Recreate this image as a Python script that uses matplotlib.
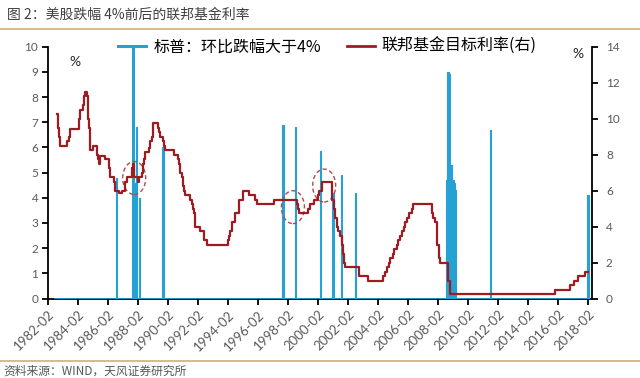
import numpy as np
import pandas as pd
import matplotlib
matplotlib.use('Agg')
import matplotlib.pyplot as plt
import matplotlib.dates as mdates
from matplotlib.patches import Ellipse
from matplotlib.lines import Line2D
from matplotlib.font_manager import FontProperties

cjk = ['Noto Sans CJK SC', 'DejaVu Sans']
plt.rcParams['font.family'] = ['Lato', 'DejaVu Sans']

# S&P 500: months with a drop bigger than 4% (left axis), other months are 0
drop_months = ['1986-09', '1987-10', '1987-11', '1987-12', '1988-01', '1988-03',
               '1989-10', '1997-10', '1998-08', '2000-04', '2001-02', '2001-09',
               '2002-08', '2008-09', '2008-10', '2008-11', '2008-12', '2009-01',
               '2009-02', '2009-03', '2009-04', '2011-08', '2018-02']
drop_values = [4.8, 10.0, 4.6, 4.4, 6.8, 4.0,
               6.0, 6.9, 6.8, 5.85, 4.2, 4.9,
               4.2, 4.7, 9.0, 8.9, 5.3, 5.3,
               4.7, 4.6, 4.3, 6.7, 4.1]

# fed funds target rate, month of each change (right axis)
rate_months = ['1982-09', '1982-10', '1982-11', '1982-12', '1983-05', '1983-07', '1983-08',
               '1984-03', '1984-04', '1984-06', '1984-07', '1984-08', '1984-09', '1984-10',
               '1984-11', '1984-12', '1985-02', '1985-05', '1985-06', '1985-07', '1985-08',
               '1985-12', '1986-03', '1986-04', '1986-07', '1986-08', '1986-11', '1987-01',
               '1987-04', '1987-05', '1987-09', '1987-10', '1987-11', '1988-02', '1988-03',
               '1988-05', '1988-06', '1988-07', '1988-08', '1988-11', '1988-12', '1989-01',
               '1989-02', '1989-06', '1989-07', '1989-08', '1989-10', '1989-11', '1989-12',
               '1990-07', '1990-10', '1990-11', '1990-12', '1991-01', '1991-02', '1991-03',
               '1991-04', '1991-08', '1991-09', '1991-10', '1991-11', '1991-12', '1992-04',
               '1992-07', '1992-09', '1994-02', '1994-03', '1994-04', '1994-05', '1994-08',
               '1994-11', '1995-02', '1995-07', '1995-12', '1996-01', '1997-03', '1998-09',
               '1998-10', '1998-11', '1999-06', '1999-08', '1999-11', '2000-02', '2000-03',
               '2000-05', '2001-01', '2001-03', '2001-04', '2001-05', '2001-06', '2001-08',
               '2001-09', '2001-10', '2001-11', '2001-12', '2002-11', '2003-06', '2004-06',
               '2004-08', '2004-09', '2004-11', '2004-12', '2005-02', '2005-03', '2005-05',
               '2005-06', '2005-08', '2005-09', '2005-11', '2005-12', '2006-01', '2006-03',
               '2006-05', '2006-06', '2007-09', '2007-10', '2007-12', '2008-01', '2008-03',
               '2008-04', '2008-10', '2008-12', '2015-12', '2016-12', '2017-03', '2017-06',
               '2017-12', '2018-02']
rate_values = [10.25, 9.5, 9.0, 8.5, 8.75, 9.0, 9.4,
               10.0, 10.5, 10.75, 11.25, 11.5, 11.25, 10.0,
               9.5, 8.25, 8.5, 8.0, 7.75, 7.5, 7.9,
               7.75, 7.25, 6.75, 6.5, 6.0, 5.875, 6.0,
               6.5, 6.75, 7.25, 7.5, 6.75, 6.5, 6.75,
               7.0, 7.5, 7.75, 8.125, 8.375, 8.75, 9.0,
               9.75, 9.5, 9.25, 9.0, 8.75, 8.5, 8.25,
               8.0, 7.75, 7.5, 7.0, 6.75, 6.25, 6.0,
               5.75, 5.5, 5.25, 5.0, 4.75, 4.0, 3.75,
               3.25, 3.0, 3.25, 3.5, 3.75, 4.25, 4.75,
               5.5, 6.0, 5.75, 5.5, 5.25, 5.5, 5.25,
               5.0, 4.75, 5.0, 5.25, 5.5, 5.75, 6.0,
               6.5, 5.5, 5.0, 4.5, 4.0, 3.75, 3.5,
               3.0, 2.5, 2.0, 1.75, 1.25, 1.0, 1.25,
               1.5, 1.75, 2.0, 2.25, 2.5, 2.75, 3.0,
               3.25, 3.5, 3.75, 4.0, 4.25, 4.5, 4.75,
               5.0, 5.25, 4.75, 4.5, 4.25, 3.0, 2.25,
               2.0, 1.0, 0.25, 0.5, 0.75, 1.0, 1.25,
               1.5, 1.5]

# dashed circles: (month, rate on right axis)
circle_months = ['1987-11', '1998-06', '2000-07']
circle_rates = [6.7, 5.08, 6.28]

tick_labels = [f'{y}-02' for y in range(1982, 2019, 2)]

blue = '#25a1d4'
red = '#9e1b22'
grey = '#595959'

months = pd.date_range('1982-08-01', '2018-03-01', freq='MS')
drops = pd.Series(0.0, index=months)
drops[pd.to_datetime(drop_months)] = drop_values

fig = plt.figure(figsize=(6.4, 3.78), dpi=100)
ax = fig.add_axes([48/640, 1-298.5/378, 544/640, 251.8/378])
ax2 = ax.twinx()

ax.plot(months, drops.values, color=blue, lw=0.8, drawstyle='steps-mid', zorder=3)
ax.fill_between(months, drops.values, color=blue, lw=0, step='mid', zorder=3)
ax.axhline(0, xmin=0.013, xmax=0.992, color=blue, lw=2.0, zorder=3)
ax2.step(pd.to_datetime(rate_months), rate_values, where='post', color=red, lw=1.6)

for m, r in zip(circle_months, circle_rates):
    ax2.add_patch(Ellipse((mdates.date2num(pd.Timestamp(m)), r), 560, 1.83, fill=False,
                          ec='#b04a4f', lw=1.0, ls=(0, (3, 2))))

ax.set_xlim(pd.Timestamp('1982-02-01'), pd.Timestamp('2018-05-10'))
ax.set_ylim(0, 10)
ax2.set_ylim(0, 14)
ax.set_yticks(range(0, 11))
ax2.set_yticks(range(0, 15, 2))
ax.set_xticks(pd.to_datetime(tick_labels))
ax.set_xticklabels(tick_labels)

for a in (ax, ax2):
    a.spines['top'].set_visible(False)
    for s in a.spines.values():
        s.set_linewidth(1.3)
ax.spines['right'].set_visible(False)
ax2.spines['left'].set_visible(False)
ax2.spines['bottom'].set_visible(False)
ax.tick_params(axis='both', labelsize=8.5, labelcolor=grey, width=1.3, length=4, direction='out', pad=3)
ax.tick_params(axis='x', labelsize=9.5)
ax2.tick_params(axis='y', labelsize=8.5, labelcolor=grey, width=1.3, length=4, direction='out', pad=6)
plt.setp(ax.get_xticklabels(), rotation=45, ha='right', va='top', rotation_mode='anchor')

ax.text(0.05, 0.94, '%', transform=ax.transAxes, fontsize=10, color='#262626', ha='center', va='center')
ax2.text(0.975, 0.97, '%', transform=ax.transAxes, fontsize=10, color='#262626', ha='center', va='center')

handles = [Line2D([], [], color=blue, lw=2.2), Line2D([], [], color=red, lw=2.0)]
ax2.legend(handles, ['标普：环比跌幅大于4%', '联邦基金目标利率(右)'], loc='center',
           bbox_to_anchor=(0.514, 1.0), ncol=2, frameon=False,
           prop=FontProperties(family=cjk, size=11.5), handlelength=1.75,
           handletextpad=0.45, columnspacing=1.6)

fig.text(7/640, 1-15/378, '图 2：美股跌幅 4%前后的联邦基金利率', family=cjk, fontsize=10,
         color='#404040', ha='left', va='center')
fig.text(3/640, 1-371/378, '资料来源：WIND，天风证券研究所', family=cjk, fontsize=8.5,
         color=grey, ha='left', va='center')
for yy in (29, 361):
    fig.add_artist(Line2D([0, 1], [1-yy/378]*2, color='#cfae7c', lw=1.2, transform=fig.transFigure))

fig.savefig('out.png', dpi=100)
